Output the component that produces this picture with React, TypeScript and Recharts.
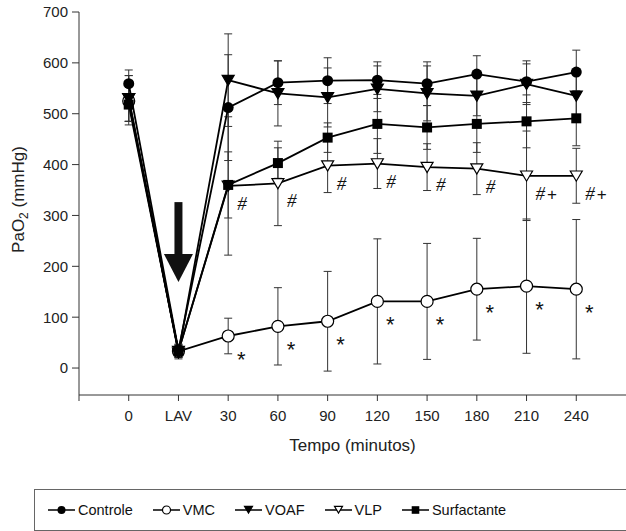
import React from 'react';
import { LineChart, Line, XAxis, YAxis, ErrorBar, LabelList, ReferenceDot, Label } from 'recharts';

// x positions: -1 is the empty tick at the origin, 0..9 are the sampled times
const timeLabels = ['0', 'LAV', '30', '60', '90', '120', '150', '180', '210', '240'];
const xTicks = [-1, 0, 1, 2, 3, 4, 5, 6, 7, 8, 9];
const yTicks = [0, 100, 200, 300, 400, 500, 600, 700];

const controle = [559, 35, 512, 561, 565, 566, 559, 578, 563, 582];
const controleSd = [27, 12, 104, 43, 45, 36, 43, 36, 41, 43];
const vmc = [525, 33, 63, 82, 92, 131, 131, 155, 161, 155];
const vmcSd = [40, 12, 35, 76, 98, 123, 114, 100, 132, 137];
const voaf = [530, 30, 566, 540, 532, 549, 540, 535, 558, 535];
const voafSd = [45, 12, 91, 64, 58, 45, 54, 39, 40, 45];
const vlp = [530, 33, 358, 363, 398, 402, 395, 392, 378, 378];
const vlpSd = [45, 12, 136, 83, 53, 49, 46, 51, 88, 54];
const surf = [518, 33, 360, 403, 453, 480, 473, 480, 485, 491];
const surfSd = [40, 12, 65, 30, 29, 58, 43, 56, 52, 54];

const vlpMarks = ['', '', '#', '#', '#', '#', '#', '#', '#+', '#+'];
const vmcMarks = ['', '', '*', '*', '*', '*', '*', '*', '*', '*'];

const arrowX = 1;
const arrowHead = 224;

const rows = timeLabels.map((t, i) => ({
  x: i,
  controle: controle[i],
  controleSd: controleSd[i],
  vmc: vmc[i],
  vmcSd: vmcSd[i],
  voaf: voaf[i],
  voafSd: voafSd[i],
  vlp: vlp[i],
  vlpSd: vlpSd[i],
  surf: surf[i],
  surfSd: surfSd[i],
  vlpMark: vlpMarks[i],
  vmcMark: vmcMarks[i],
}));

const FONT = '"Liberation Sans", Arial, Helvetica, sans-serif';

type Kind = 'circle' | 'ocircle' | 'tri' | 'otri' | 'square';

const marker = (kind: Kind, cx: number, cy: number, s: number, key?: string) => {
  switch (kind) {
    case 'circle':
      return <circle key={key} cx={cx} cy={cy} r={s} fill="#000" />;
    case 'ocircle':
      return <circle key={key} cx={cx} cy={cy} r={s} fill="#fff" stroke="#000" strokeWidth={1.2} />;
    case 'tri':
    case 'otri':
      return (
        <polygon
          key={key}
          points={`${cx - s},${cy - s * 0.8} ${cx + s},${cy - s * 0.8} ${cx},${cy + s * 0.9}`}
          fill={kind === 'tri' ? '#000' : '#fff'}
          stroke="#000"
          strokeWidth={1.2}
          strokeLinejoin="miter"
        />
      );
    default:
      return <rect key={key} x={cx - s} y={cy - s} width={s * 2} height={s * 2} fill="#000" />;
  }
};

const dotFor = (kind: Kind, s: number) => (props: any) => {
  const { cx, cy, index } = props;
  if (cx == null || cy == null) return <g key={`e-${kind}-${index}`} />;
  return marker(kind, cx, cy, s, `d-${kind}-${index}`);
};

const hashLabel = (props: any) => {
  const { x, y, value, index } = props;
  if (!value) return null;
  return (
    <text key={`h-${index}`} x={x + 9} y={y + 24} fontFamily='"Liberation Serif", "Times New Roman", serif' fontSize={19} fill="#111">
      <tspan fontStyle="italic">#</tspan>
      {value.length > 1 && <tspan fontFamily={FONT} fontSize={17} dx={2}>+</tspan>}
    </text>
  );
};

const starLabel = (props: any) => {
  const { x, y, value, index } = props;
  if (!value) return null;
  return (
    <text key={`s-${index}`} x={x + 13} y={y + 31} textAnchor="middle" fontFamily={FONT} fontSize={22} fill="#111">
      {value}
    </text>
  );
};

const arrowShape = (props: any) => {
  const { cx, cy } = props;
  return (
    <g>
      <rect x={cx - 4} y={cy - 52} width={8} height={54} fill="#111" />
      <polygon points={`${cx - 14.5},${cy} ${cx + 14.5},${cy} ${cx},${cy + 28}`} fill="#111" />
    </g>
  );
};

const YTitle = (props: any) => {
  const vb = props.viewBox || {};
  const cy = vb.y + vb.height / 2 - 4;
  return (
    <text x={24} y={cy} transform={`rotate(-90 24 ${cy})`} textAnchor="middle" fontFamily={FONT} fontSize={17} fill="#222">
      PaO<tspan fontSize={12} dy={4}>2</tspan>
      <tspan dy={-4}> (mmHg)</tspan>
    </text>
  );
};

const XTitle = (props: any) => {
  const vb = props.viewBox || {};
  return (
    <text x={vb.x + vb.width / 2} y={451} textAnchor="middle" fontFamily={FONT} fontSize={17} fill="#222">
      Tempo (minutos)
    </text>
  );
};

const legendItems: { name: string; kind: Kind }[] = [
  { name: 'Controle', kind: 'circle' },
  { name: 'VMC', kind: 'ocircle' },
  { name: 'VOAF', kind: 'tri' },
  { name: 'VLP', kind: 'otri' },
  { name: 'Surfactante', kind: 'square' },
];

const App: React.FC = () => {
  return (
    <div style={{ position: 'absolute', left: 0, top: 0, width: 626, height: 531, background: '#fff' }}>
      <LineChart width={626} height={531} data={rows} margin={{ top: 12, right: 0, bottom: 86, left: 0 }}>
        <XAxis
          dataKey="x"
          type="number"
          domain={[-1, 10]}
          ticks={xTicks}
          interval={0}
          tickFormatter={(v: number) => (v >= 0 ? timeLabels[v] : '')}
          height={50}
          tickSize={6}
          tickMargin={9}
          stroke="#333"
          tick={{ fill: '#222', fontSize: 15, fontFamily: FONT }}
          allowDataOverflow
        >
          <Label content={XTitle} />
        </XAxis>
        <YAxis
          type="number"
          domain={[-53, 700]}
          ticks={yTicks}
          interval={0}
          width={79}
          tickSize={7}
          tickMargin={4}
          stroke="#333"
          tick={{ fill: '#222', fontSize: 15, fontFamily: FONT }}
          allowDataOverflow
        >
          <Label content={YTitle} />
        </YAxis>

        <ReferenceDot x={arrowX} y={arrowHead} r={0} shape={arrowShape} />

        <Line dataKey="vmc" stroke="#000" strokeWidth={1.8} isAnimationActive={false} dot={dotFor('ocircle', 6)} activeDot={false}>
          <ErrorBar dataKey="vmcSd" direction="y" width={4} stroke="#333" strokeWidth={1} />
          <LabelList dataKey="vmcMark" content={starLabel} />
        </Line>
        <Line dataKey="vlp" stroke="#000" strokeWidth={1.8} isAnimationActive={false} dot={dotFor('otri', 6)} activeDot={false}>
          <ErrorBar dataKey="vlpSd" direction="y" width={4} stroke="#333" strokeWidth={1} />
          <LabelList dataKey="vlpMark" content={hashLabel} />
        </Line>
        <Line dataKey="surf" stroke="#000" strokeWidth={1.8} isAnimationActive={false} dot={dotFor('square', 5)} activeDot={false}>
          <ErrorBar dataKey="surfSd" direction="y" width={4} stroke="#333" strokeWidth={1} />
        </Line>
        <Line dataKey="voaf" stroke="#000" strokeWidth={1.8} isAnimationActive={false} dot={dotFor('tri', 6)} activeDot={false}>
          <ErrorBar dataKey="voafSd" direction="y" width={4} stroke="#333" strokeWidth={1} />
        </Line>
        <Line dataKey="controle" stroke="#000" strokeWidth={1.8} isAnimationActive={false} dot={dotFor('circle', 5.5)} activeDot={false}>
          <ErrorBar dataKey="controleSd" direction="y" width={4} stroke="#333" strokeWidth={1} />
        </Line>
      </LineChart>

      <div
        style={{
          position: 'absolute',
          left: 34,
          top: 489,
          width: 592,
          height: 42,
          boxSizing: 'border-box',
          border: '1px solid #666',
          borderRight: 'none',
          display: 'flex',
          alignItems: 'center',
          paddingLeft: 13,
          fontFamily: FONT,
          fontSize: 14.5,
          color: '#111',
        }}
      >
        {legendItems.map((it) => (
          <div key={it.name} style={{ display: 'flex', alignItems: 'center', marginRight: 20 }}>
            <svg width={27} height={14} style={{ marginRight: 3 }}>
              <line x1={0} y1={7} x2={27} y2={7} stroke="#000" strokeWidth={1.5} />
              {marker(it.kind, 13.5, it.kind === 'tri' || it.kind === 'otri' ? 6.5 : 7, it.kind === 'square' ? 3.8 : 4)}
            </svg>
            <span>{it.name}</span>
          </div>
        ))}
      </div>
    </div>
  );
};

export default App;
